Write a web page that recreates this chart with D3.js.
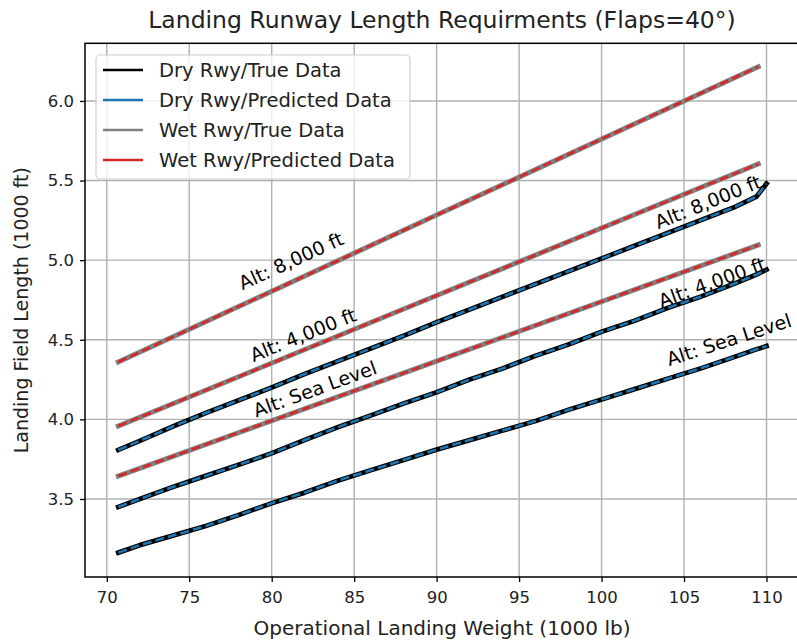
<!DOCTYPE html>
<html>
<head>
<meta charset="utf-8">
<script src="https://cdn.jsdelivr.net/npm/d3@7"></script>
<style>
  html, body { margin: 0; padding: 0; background: #ffffff; }
  svg { display: block; font-family: "DejaVu Sans", sans-serif; }
</style>
</head>
<body>
<svg id="chart" width="797" height="641"></svg>
<script>
// Landing weight (1000 lb) and field length (1000 ft) per altitude
const dryWeights = [70.7, 72, 74, 76, 78, 80, 82, 84, 86, 88, 90, 92, 94, 96, 98, 100, 102, 104, 106, 108, 109.4, 110];
const drySeaLevel = [3.163, 3.21, 3.27, 3.33, 3.40, 3.473, 3.54, 3.615, 3.68, 3.745, 3.81, 3.87, 3.93, 3.99, 4.06, 4.125, 4.19, 4.255, 4.32, 4.39, 4.44, 4.46];
const dry4000 = [3.45, 3.50, 3.575, 3.645, 3.715, 3.787, 3.87, 3.95, 4.025, 4.10, 4.17, 4.25, 4.32, 4.40, 4.47, 4.55, 4.62, 4.70, 4.77, 4.85, 4.91, 4.94];
const dry8000 = [3.808, 3.865, 3.955, 4.04, 4.12, 4.20, 4.285, 4.365, 4.445, 4.525, 4.61, 4.69, 4.77, 4.85, 4.93, 5.01, 5.09, 5.17, 5.25, 5.33, 5.40, 5.48];

const wetWeights = [70.7, 90, 109.5];
const wetSeaLevel = [3.644, 4.366, 5.095];
const wet4000 = [3.958, 4.778, 5.604];
const wet8000 = [4.36, 5.283, 6.215];

const xTicks = [70, 75, 80, 85, 90, 95, 100, 105, 110];
const yTicks = [3.5, 4.0, 4.5, 5.0, 5.5, 6.0];

const legendLabels = ["Dry Rwy/True Data", "Dry Rwy/Predicted Data", "Wet Rwy/True Data", "Wet Rwy/Predicted Data"];
const titleText = "Landing Runway Length Requirments (Flaps=40°)";
const xLabel = "Operational Landing Weight (1000 lb)";
const yLabel = "Landing Field Length (1000 ft)";

// Curve labels: text, centre point (weight, length), rotation in degrees
const curveLabels = [
  { text: "Alt: 8,000 ft",   w: 81.17,  v: 4.995, angle: -24.5 },
  { text: "Alt: 4,000 ft",   w: 81.90,  v: 4.53,  angle: -22 },
  { text: "Alt: Sea Level",  w: 82.62,  v: 4.19,  angle: -20 },
  { text: "Alt: 8,000 ft",   w: 106.45, v: 5.365, angle: -22 },
  { text: "Alt: 4,000 ft",   w: 106.69, v: 4.86,  angle: -20 },
  { text: "Alt: Sea Level",  w: 107.72, v: 4.50,  angle: -18 }
];

const colors = { dryTrue: "#000000", dryPred: "#1f77b4", wetTrue: "#808080", wetPred: "#d62728" };

const svg = d3.select("#chart");
const xLim = [68.68, 111.97], yLim = [3.010, 6.362];
const plot = { left: 85, right: 799, top: 43.3, bottom: 577 };

const x = d3.scaleLinear().domain(xLim).range([plot.left, plot.right]);
const y = d3.scaleLinear().domain(yLim).range([plot.bottom, plot.top]);

// grid
const grid = svg.append("g");
grid.selectAll(".gx").data(xTicks).join("line")
  .attr("x1", d => x(d)).attr("x2", d => x(d))
  .attr("y1", plot.top).attr("y2", plot.bottom)
  .attr("stroke", "#b0b0b0").attr("stroke-width", 1.4);
grid.selectAll(".gy").data(yTicks).join("line")
  .attr("x1", plot.left).attr("x2", plot.right)
  .attr("y1", d => y(d)).attr("y2", d => y(d))
  .attr("stroke", "#b0b0b0").attr("stroke-width", 1.4);

svg.append("clipPath").attr("id", "clip")
  .append("rect").attr("x", plot.left).attr("y", plot.top)
  .attr("width", plot.right - plot.left).attr("height", plot.bottom - plot.top);

const line = d3.line().x(d => x(d[0])).y(d => y(d[1]));
const zip = (ws, vs) => ws.map((w, i) => [w, vs[i]]);

const series = [
  { ws: dryWeights, vs: drySeaLevel, kind: "dry" },
  { ws: dryWeights, vs: dry4000, kind: "dry" },
  { ws: dryWeights, vs: dry8000, kind: "dry" },
  { ws: wetWeights, vs: wetSeaLevel, kind: "wet" },
  { ws: wetWeights, vs: wet4000, kind: "wet" },
  { ws: wetWeights, vs: wet8000, kind: "wet" }
];

const lines = svg.append("g").attr("clip-path", "url(#clip)");
series.forEach(s => {
  const pts = zip(s.ws, s.vs);
  const dry = s.kind === "dry";
  lines.append("path").attr("d", line(pts)).attr("fill", "none")
    .attr("stroke", dry ? colors.dryTrue : colors.wetTrue)
    .attr("stroke-width", dry ? 4.8 : 5)
    .attr("stroke-linecap", "square").attr("stroke-linejoin", "round");
  lines.append("path").attr("d", line(pts)).attr("fill", "none")
    .attr("stroke", dry ? colors.dryPred : colors.wetPred)
    .attr("stroke-width", 2.6)
    .attr("stroke-dasharray", "9,4")
    .attr("stroke-linecap", "butt").attr("stroke-linejoin", "round");
});

// curve labels
svg.append("g").selectAll("text").data(curveLabels).join("text")
  .attr("transform", d => `translate(${x(d.w)},${y(d.v)}) rotate(${d.angle})`)
  .attr("text-anchor", "middle")
  .attr("dy", "0.35em")
  .attr("font-size", 19)
  .attr("fill", "#000")
  .text(d => d.text);

// frame
svg.append("rect").attr("x", plot.left).attr("y", plot.top)
  .attr("width", plot.right - plot.left).attr("height", plot.bottom - plot.top)
  .attr("fill", "none").attr("stroke", "#000").attr("stroke-width", 1.5);

// axes
const xAxis = svg.append("g").attr("transform", `translate(0,${plot.bottom})`)
  .call(d3.axisBottom(x).tickValues(xTicks).tickFormat(d3.format("d")).tickSize(5).tickPadding(9));
const yAxis = svg.append("g").attr("transform", `translate(${plot.left},0)`)
  .call(d3.axisLeft(y).tickValues(yTicks).tickFormat(d3.format(".1f")).tickSize(5).tickPadding(6));
[xAxis, yAxis].forEach(a => {
  a.select(".domain").remove();
  a.selectAll("line").attr("stroke", "#000").attr("stroke-width", 1.3);
  a.selectAll("text").attr("font-size", 16.5).attr("font-family", "DejaVu Sans, sans-serif").attr("fill", "#222");
});

// titles
svg.append("text").attr("x", (plot.left + plot.right) / 2).attr("y", 28)
  .attr("text-anchor", "middle").attr("font-size", 23.5).attr("fill", "#222").text(titleText);
svg.append("text").attr("x", (plot.left + plot.right) / 2).attr("y", 635)
  .attr("text-anchor", "middle").attr("font-size", 20).attr("fill", "#222").text(xLabel);
svg.append("text").attr("transform", `translate(28,${(plot.top + plot.bottom) / 2}) rotate(-90)`)
  .attr("text-anchor", "middle").attr("font-size", 19).attr("fill", "#222").text(yLabel);

// legend
const legendColors = [colors.dryTrue, colors.dryPred, colors.wetTrue, colors.wetPred];
const lg = svg.append("g");
lg.append("rect").attr("x", 96).attr("y", 55).attr("width", 314).attr("height", 124)
  .attr("rx", 4).attr("fill", "#fff").attr("fill-opacity", 0.8)
  .attr("stroke", "#d0d0d0").attr("stroke-width", 1.2);
const rows = lg.selectAll("g.row").data(legendLabels).join("g")
  .attr("transform", (d, i) => `translate(0,${70 + i * 30})`);
rows.append("line").attr("x1", 103).attr("x2", 143).attr("y1", 0).attr("y2", 0)
  .attr("stroke", (d, i) => legendColors[i]).attr("stroke-width", 2.6);
rows.append("text").attr("x", 159).attr("y", 0).attr("dy", "0.36em")
  .attr("font-size", 19.5).attr("fill", "#222").text(d => d);
</script>
</body>
</html>
